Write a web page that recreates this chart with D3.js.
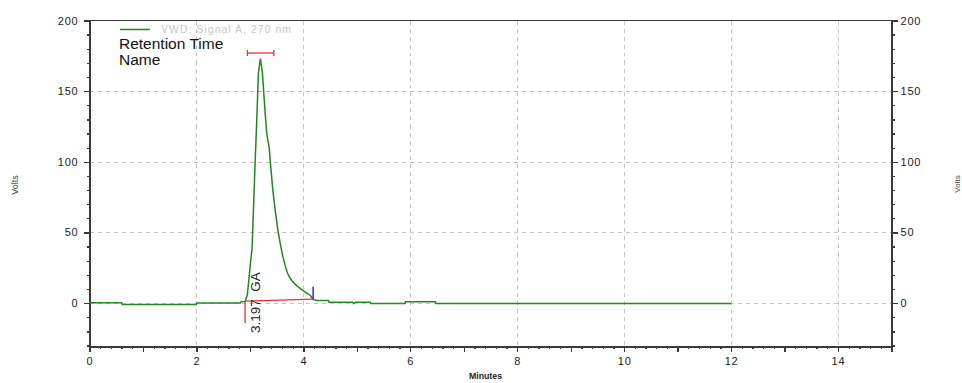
<!DOCTYPE html>
<html>
<head>
<meta charset="utf-8">
<script src="https://cdn.jsdelivr.net/npm/d3@7"></script>
<style>
  html, body { margin: 0; padding: 0; background: #fff; }
  svg { display: block; font-family: "Liberation Sans", Arial, sans-serif; }
</style>
</head>
<body>
<svg id="chart" width="962" height="383"></svg>
<script>
// ---- Data ----
const timeMin = [0, 0.6, 0.61, 2.0, 2.01, 2.82, 2.83, 2.91, 2.953, 3.004, 3.041, 3.066, 3.084, 3.103, 3.129, 3.159, 3.197, 3.234, 3.29, 3.316, 3.36, 3.391, 3.429, 3.472, 3.522, 3.578, 3.62, 3.659, 3.70, 3.74, 3.784, 3.84, 3.88, 3.94, 4.03, 4.127, 4.183, 4.25, 4.47, 4.48, 4.92, 4.94, 4.97, 5.25, 5.26, 5.9, 5.91, 6.47, 6.48, 12.0];
const signal  = [0.2, 0.2, -0.9, -0.9, 0.1, 0.1, 0.9, 1.2, 5.9, 25.9, 39.1, 66, 85, 105, 130, 163, 173, 163, 132, 120, 110, 96, 80, 66, 52, 40, 32.5, 26.5, 21.5, 18.5, 16, 13.6, 12.2, 10.4, 8.0, 5.6, 2.6, 1.8, 1.8, 0.7, 0.7, -0.4, 0.7, 0.7, -0.3, -0.3, 0.9, 0.9, -0.2, -0.2];
const xTicks = [0, 2, 4, 6, 8, 10, 12, 14];
const yTicks = [0, 50, 100, 150, 200];
const peakRT = 3.197;
const peakName = "GA";
const peakStart = [2.91, 1.4];   // baseline start (min, volts)
const peakEnd = [4.183, 2.8];    // baseline end
const bracketRange = [2.953, 3.447];
const bracketLevel = 177;
const legendLabel = "VWD: Signal A, 270 nm";
const legendLines = ["Retention Time", "Name"];
const xTitle = "Minutes";
const yTitle = "Volts";

// ---- Layout ----
const svg = d3.select("#chart");
const x = d3.scaleLinear([0, 15], [89.5, 891.5]);
const y = d3.scaleLinear([-30.7, 200], [346.5, 20.5]);
const axisColor = "#3a3a3a";
const gridColor = "#c4c4c4";

// grid
const grid = svg.append("g").attr("shape-rendering", "crispEdges");
grid.selectAll("line.vg").data(xTicks.filter(d => d > 0)).join("line")
  .attr("x1", d => Math.round(x(d)) + 0.5).attr("x2", d => Math.round(x(d)) + 0.5)
  .attr("y1", y(200)).attr("y2", y(-30.7))
  .attr("stroke", gridColor).attr("stroke-dasharray", "4,4");
grid.selectAll("line.hg").data(yTicks.filter(d => d < 200)).join("line")
  .attr("y1", d => Math.round(y(d)) + 0.5).attr("y2", d => Math.round(y(d)) + 0.5)
  .attr("x1", x(0)).attr("x2", x(15))
  .attr("stroke", gridColor).attr("stroke-dasharray", "4,4");

// axes
function styleAxis(g) {
  g.attr("shape-rendering", "crispEdges");
  g.selectAll("path,line").attr("stroke", axisColor).attr("stroke-width", 1.3);
  g.selectAll("text").attr("fill", "#222").attr("font-size", 11).attr("letter-spacing", 0.8);
}
const yMinor = d3.range(-30, 201, 10);
const xMinor = d3.range(0, 15.01, 0.2).map(d => +d.toFixed(1));

// left
svg.append("g").attr("transform", `translate(${x(0)},0)`)
  .call(d3.axisLeft(y).tickValues(yMinor).tickSize(3).tickFormat("").tickSizeOuter(0)).call(styleAxis);
svg.append("g").attr("transform", `translate(${x(0)},0)`)
  .call(d3.axisLeft(y).tickValues(yTicks).tickSize(6).tickPadding(5).tickSizeOuter(0)).call(styleAxis);
// right
svg.append("g").attr("transform", `translate(${x(15)},0)`)
  .call(d3.axisRight(y).tickValues(yMinor).tickSize(3).tickFormat("").tickSizeOuter(0)).call(styleAxis);
svg.append("g").attr("transform", `translate(${x(15)},0)`)
  .call(d3.axisRight(y).tickValues(yTicks).tickSize(6).tickPadding(3).tickSizeOuter(0)).call(styleAxis);
// bottom
svg.append("g").attr("transform", `translate(0,${y(-30.7)})`)
  .call(d3.axisBottom(x).tickValues(xMinor).tickSize(2.5).tickFormat("").tickSizeOuter(0)).call(styleAxis);
svg.append("g").attr("transform", `translate(0,${y(-30.7)})`)
  .call(d3.axisBottom(x).tickValues(d3.range(0, 16, 1)).tickSize(5).tickFormat("").tickSizeOuter(0)).call(styleAxis);
svg.append("g").attr("transform", `translate(0,${y(-30.7)})`)
  .call(d3.axisBottom(x).tickValues(xTicks).tickSize(5).tickPadding(6).tickSizeOuter(0)).call(styleAxis);
// top border
svg.append("line").attr("shape-rendering", "crispEdges")
  .attr("x1", x(0)).attr("x2", x(15)).attr("y1", y(200)).attr("y2", y(200))
  .attr("stroke", axisColor).attr("stroke-width", 1.6);

// axis titles
svg.append("text").attr("transform", `translate(18,185) rotate(-90)`)
  .attr("text-anchor", "middle").attr("font-size", 9).attr("fill", "#444").text(yTitle);
svg.append("text").attr("transform", `translate(960,184) rotate(-90)`)
  .attr("text-anchor", "middle").attr("font-size", 8).attr("fill", "#444").text(yTitle);
svg.append("text").attr("x", 469).attr("y", 379).attr("font-size", 9).attr("font-weight", "bold")
  .attr("fill", "#222").attr("textLength", 33).attr("lengthAdjust", "spacingAndGlyphs").text(xTitle);

// signal
const data = timeMin.map((t, i) => [t, signal[i]]);
svg.append("path").datum(data)
  .attr("fill", "none").attr("stroke", "#1e8a1e").attr("stroke-width", 1.5)
  .attr("d", d3.line().x(d => x(d[0])).y(d => y(d[1])));

// integration baseline
svg.append("line").attr("x1", x(peakStart[0])).attr("y1", y(peakStart[1]))
  .attr("x2", x(peakEnd[0])).attr("y2", y(peakEnd[1]))
  .attr("stroke", "#f03030").attr("stroke-width", 1.3);
svg.append("line").attr("x1", x(peakStart[0])).attr("x2", x(peakStart[0]))
  .attr("y1", y(peakStart[1])).attr("y2", y(-14))
  .attr("stroke", "#f03030").attr("stroke-width", 1.3);
svg.append("line").attr("x1", x(peakEnd[0])).attr("x2", x(peakEnd[0]))
  .attr("y1", y(peakEnd[1])).attr("y2", y(11.5))
  .attr("stroke", "#2030e0").attr("stroke-width", 1.5);

// bracket above peak
const br = svg.append("g").attr("stroke", "#f03030").attr("stroke-width", 1.3);
br.append("line").attr("x1", x(bracketRange[0])).attr("x2", x(bracketRange[1]))
  .attr("y1", y(bracketLevel)).attr("y2", y(bracketLevel));
bracketRange.forEach(t => br.append("line").attr("x1", x(t)).attr("x2", x(t))
  .attr("y1", y(bracketLevel) - 3).attr("y2", y(bracketLevel) + 3));

// peak label
svg.append("text").attr("transform", `translate(${x(peakRT) - 0.5},333) rotate(-90)`)
  .attr("font-size", 13.5).attr("fill", "#222").attr("xml:space", "preserve")
  .style("white-space", "pre")
  .text(peakRT.toFixed(3) + "  " + peakName);

// legend
svg.append("line").attr("x1", 120).attr("x2", 150).attr("y1", 29.5).attr("y2", 29.5)
  .attr("stroke", "#1e8a1e").attr("stroke-width", 1.5);
svg.append("text").attr("x", 161).attr("y", 33).attr("font-size", 10.5).attr("fill", "#c6c6c6")
  .attr("textLength", 130).attr("lengthAdjust", "spacing").text(legendLabel);
svg.selectAll("text.leg").data(legendLines).join("text")
  .attr("x", 119).attr("y", (d, i) => 48.5 + i * 16)
  .attr("font-size", 15.5).attr("fill", "#111")
  .text(d => d);
</script>
</body>
</html>
